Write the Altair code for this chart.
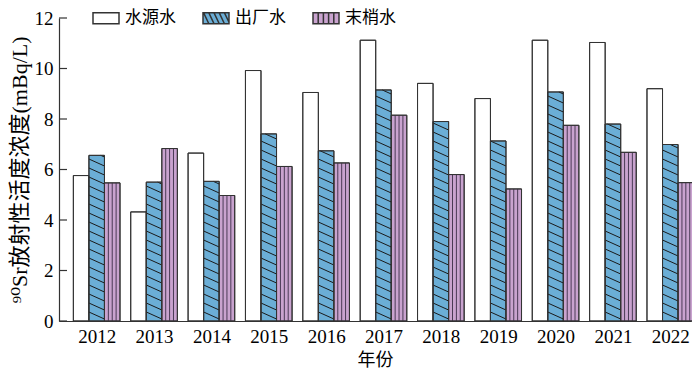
import math
import altair as alt
import pandas as pd

# ---------------- data ----------------
years = [2012, 2013, 2014, 2015, 2016, 2017, 2018, 2019, 2020, 2021, 2022]
series_names = ["水源水", "出厂水", "末梢水"]
source_water = [5.76, 4.32, 6.65, 9.92, 9.05, 11.12, 9.41, 8.81, 11.12, 11.03, 9.20]
plant_water = [6.56, 5.50, 5.53, 7.41, 6.74, 9.15, 7.90, 7.13, 9.07, 7.80, 6.99]
tap_water = [5.47, 6.83, 4.97, 6.12, 6.26, 8.15, 5.80, 5.23, 7.75, 6.68, 5.48]
y_ticks = [0, 2, 4, 6, 8, 10, 12]

# ---------------- layout / style constants ----------------
W, H = 632, 303
X_DOM = [2011.343, 2022.361]
Y_DOM = [0, 12]
BW = 0.271  # bar width in years
px_x = W / (X_DOM[1] - X_DOM[0])
px_y = H / (Y_DOM[1] - Y_DOM[0])
HATCH_SPACING = 9 / px_y
HATCH_DROP = 7 / px_y
TICK_LEN = 8 / px_x

FILL = ["#ffffff", "#6baed6", "#c9a3cf"]
NUM_FONT = "Liberation Serif"
MIX_FONT = "Liberation Serif, DejaVu Serif, Noto Sans CJK SC"
CJK_FONT = "Noto Sans CJK SC"

# ---------------- tables built from the arrays ----------------
rows = []
for k, (name, vals) in enumerate(zip(series_names, [source_water, plant_water, tap_water])):
    for yr, v in zip(years, vals):
        xl = yr + (k - 1) * BW - BW / 2
        rows.append({"year": yr, "series": name, "k": k, "value": v, "xl": xl, "xr": xl + BW})
bars = pd.DataFrame(rows)

hatch = []
for r in rows:
    if r["k"] != 1:
        continue
    v, xl = r["value"], r["xl"]
    n = int(math.ceil((v + HATCH_DROP) / HATCH_SPACING)) + 1
    for i in range(1, n + 1):
        yl = i * HATCH_SPACING
        yr_ = yl - HATCH_DROP
        xa, ya, xb, yb = xl, yl, xl + BW, yr_
        if yl > v:
            t = (yl - v) / HATCH_DROP
            if t >= 1:
                continue
            xa, ya = xl + t * BW, v
        if yr_ < 0:
            t2 = yl / HATCH_DROP
            xb, yb = xl + t2 * BW, 0.0
        if xb - xa <= 1e-6:
            continue
        hatch.append({"x": xa, "x2": xb, "y": ya, "y2": yb})
hatch = pd.DataFrame(hatch)

stripes = []
for r in rows:
    if r["k"] != 2:
        continue
    for j in (1, 2, 3):
        stripes.append({"x": r["xl"] + j * BW / 4, "y": r["value"]})
stripes = pd.DataFrame(stripes)

ticks = pd.DataFrame({"y": y_ticks, "x": [X_DOM[0]] * len(y_ticks),
                      "x2": [X_DOM[0] + TICK_LEN] * len(y_ticks)})

xscale = alt.Scale(domain=X_DOM, nice=False, zero=False)
yscale = alt.Scale(domain=Y_DOM, nice=False)

x_axis = alt.Axis(
    values=years, format="d", grid=False, ticks=False,
    labelFont=NUM_FONT, labelFontSize=19, labelColor="#000", labelPadding=6,
    domainColor="#333", domainWidth=1.2,
    title="年份", titleFont=CJK_FONT, titleFontSize=18, titleFontWeight="normal",
    titleColor="#000", titlePadding=5,
)
y_axis = alt.Axis(
    values=y_ticks, grid=False, ticks=False,
    labelFont=NUM_FONT, labelFontSize=19, labelColor="#000", labelPadding=6,
    domainColor="#333", domainWidth=1.2,
    title="⁹⁰Sr放射性活度浓度(mBq/L)", titleFont=MIX_FONT, titleFontSize=22,
    titleFontWeight="normal", titleColor="#000", titlePadding=3,
)


def X(field):
    return alt.X(field, scale=xscale, axis=x_axis)


def Y(field):
    return alt.Y(field, scale=yscale, axis=y_axis)


SHAPES = [
    "M-1,-0.42H1V0.42H-1Z",
    "M-1,-0.42H1V0.42H-1ZM-0.95,-0.42L-0.55,0.42M-0.55,-0.42L-0.15,0.42"
    "M-0.15,-0.42L0.25,0.42M0.25,-0.42L0.65,0.42M0.65,-0.42L1,0.31",
    "M-1,-0.42H1V0.42H-1ZM-0.6,-0.42V0.42M-0.2,-0.42V0.42M0.2,-0.42V0.42M0.6,-0.42V0.42",
]
legend = alt.Legend(
    title=None, orient="none", legendX=33, legendY=-14, direction="horizontal",
    labelFont=MIX_FONT, labelFontSize=17, labelColor="#000", labelOffset=5,
    columnPadding=24, symbolSize=676, symbolOpacity=1,
)
color_scale = alt.Scale(domain=series_names, range=FILL)

bar_layer = alt.Chart(bars).mark_rect(stroke="#333", strokeWidth=1).encode(
    x=X("xl:Q"), x2="xr:Q", y=Y("value:Q"), y2=alt.datum(0),
    color=alt.Color("series:N", scale=color_scale, legend=legend),
)

hatch_layer = alt.Chart(hatch).mark_rule(color="#1a1a1a", strokeWidth=1).encode(
    x=X("x:Q"), x2="x2:Q", y=Y("y:Q"), y2="y2:Q",
)

stripe_layer = alt.Chart(stripes).mark_rule(color="#4a3a55", strokeWidth=1).encode(
    x=X("x:Q"), y=Y("y:Q"), y2=alt.datum(0),
)

outline_layer = alt.Chart(bars).mark_rect(fill=None, stroke="#333", strokeWidth=1).encode(
    x=X("xl:Q"), x2="xr:Q", y=Y("value:Q"), y2=alt.datum(0),
)

tick_layer = alt.Chart(ticks).mark_rule(color="#333", strokeWidth=1.2).encode(
    x=X("x:Q"), x2="x2:Q", y=Y("y:Q"),
)

# legend-only layer: no rows survive the filter, entries come from the fixed scale domains
legend_layer = alt.Chart(bars).transform_filter("false").mark_point(
    filled=True, size=676, stroke="#333", strokeWidth=1, strokeOpacity=1
).encode(
    x=X("xl:Q"), y=Y("value:Q"),
    color=alt.Color("series:N", scale=color_scale, legend=legend),
    shape=alt.Shape("series:N", scale=alt.Scale(domain=series_names, range=SHAPES), legend=legend),
)

chart = (
    alt.layer(bar_layer, hatch_layer, stripe_layer, outline_layer, tick_layer, legend_layer)
    .properties(
        width=W, height=H,
        autosize=alt.AutoSizeParams(type="none"),
        padding={"left": 51, "top": 10, "right": 1, "bottom": 48},
    )
    .configure_view(stroke=None)
)

chart.save("out.html", embed_options={"renderer": "svg", "actions": False})
